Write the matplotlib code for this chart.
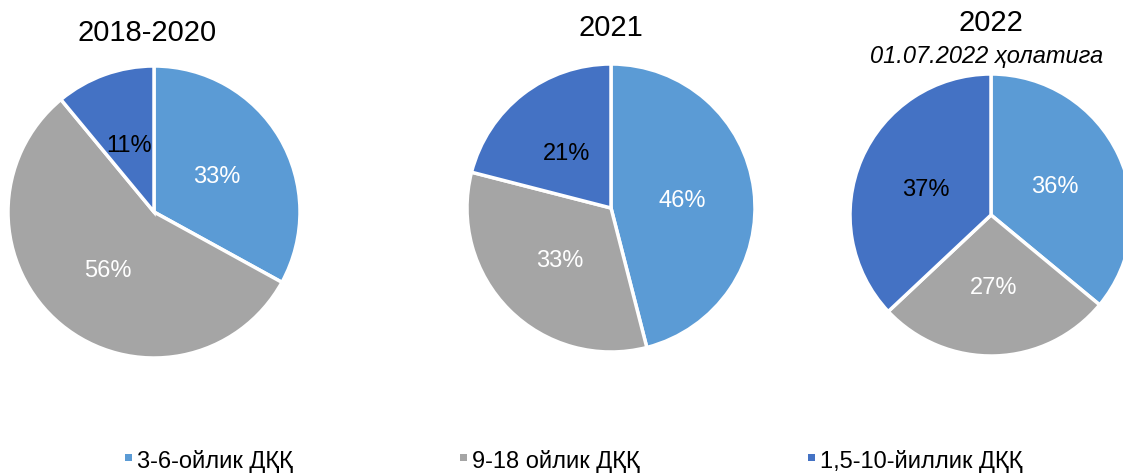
import matplotlib.pyplot as plt
from matplotlib.patches import Rectangle

titles = ['2018-2020', '2021', '2022']
subtitle = '01.07.2022 ҳолатига'
categories = ['3-6-ойлик ДҚҚ', '9-18 ойлик ДҚҚ', '1,5-10-йиллик ДҚҚ']
shares_2018_2020 = [33, 56, 11]
shares_2021 = [46, 33, 21]
shares_2022 = [36, 27, 37]

colors = ['#5B9BD5', '#A5A5A5', '#4472C4']
label_colors = ['white', 'white', 'black']

W, H = 1123, 473
fig = plt.figure(figsize=(W / 100, H / 100), dpi=100)
plt.rcParams['font.family'] = ['Liberation Sans', 'DejaVu Sans']

# centre x, centre y, radius in pixels
layout = [(154, 212, 146), (611, 208, 144), (991, 215, 141)]
data = [shares_2018_2020, shares_2021, shares_2022]

for (cx, cy, r), vals in zip(layout, data):
    ax = fig.add_axes([(cx - r) / W, (H - cy - r) / H, 2 * r / W, 2 * r / H])
    wedges, texts, autotexts = ax.pie(
        vals, colors=colors, startangle=90, counterclock=False,
        autopct='%d%%', pctdistance=0.5, radius=1,
        wedgeprops=dict(edgecolor='white', linewidth=2.5),
        textprops=dict(fontsize=17))
    for t, c in zip(autotexts, label_colors):
        t.set_color(c)
        t.set_va('center_baseline')
    ax.set_xlim(-1, 1)
    ax.set_ylim(-1, 1)
    ax.set_aspect('equal')
    ax.axis('off')
    for w in wedges:
        w.set_clip_on(False)

# titles
fig.text(147 / W, 1 - 33 / H, titles[0], ha='center', va='center', fontsize=21)
fig.text(611 / W, 1 - 28 / H, titles[1], ha='center', va='center', fontsize=21)
fig.text(991 / W, 1 - 23 / H, titles[2], ha='center', va='center', fontsize=21)
fig.text(987 / W, 1 - 57 / H, subtitle, ha='center', va='center', fontsize=17, style='italic')

# legend drawn by hand
legend_x = [128, 463, 811]
for x, c, lab in zip(legend_x, colors, categories):
    fig.add_artist(Rectangle(((x - 3.5) / W, 1 - 461 / H), 7 / W, 7 / H,
                             facecolor=c, edgecolor='none', transform=fig.transFigure))
    fig.text((x + 9) / W, 1 - 461 / H, lab, ha='left', va='center', fontsize=17)

fig.savefig('out.png', dpi=100)
